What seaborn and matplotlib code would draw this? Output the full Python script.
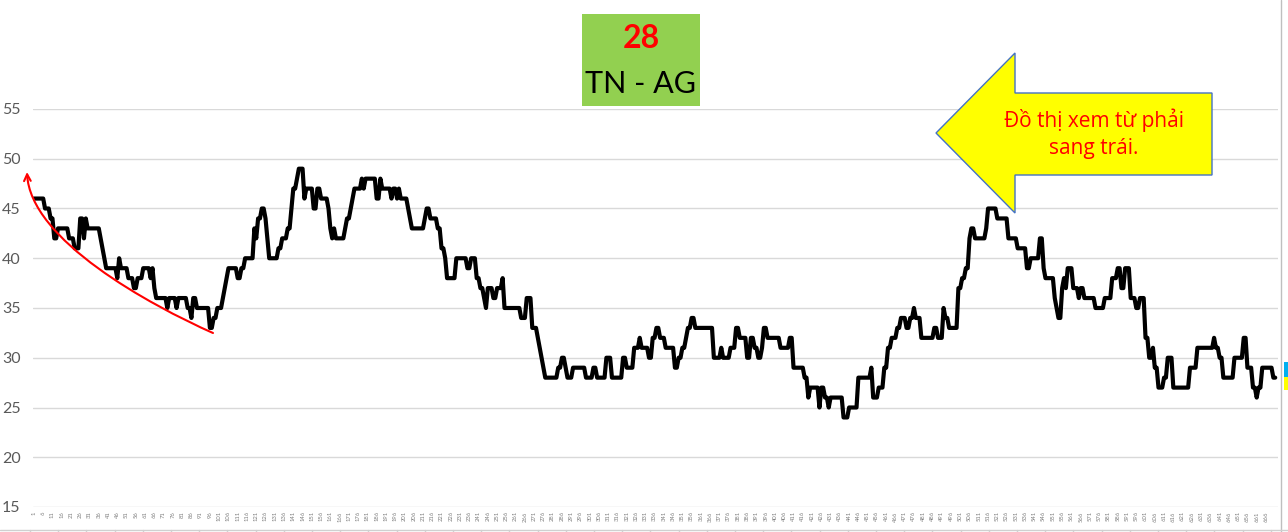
import numpy as np
import pandas as pd
import matplotlib
matplotlib.use("Agg")
import matplotlib.pyplot as plt
import seaborn as sns
from matplotlib.patches import Polygon, Rectangle, FancyArrowPatch
from matplotlib.path import Path

# chuỗi giá trị theo ngày, dạng (mức, số ngày liên tiếp)
levels = [
    46, 45, 44, 42, 43, 42, 41, 44, 42, 44, 43, 42, 41, 40, 39, 38, 40, 39, 38, 37,
    38, 39, 38, 39, 37, 36, 35, 36, 35, 36, 35, 34, 36, 35, 33, 34, 35, 36, 37, 38,
    39, 38, 39, 40, 43, 42, 44, 45, 44, 42, 40, 41, 42, 43,
    45, 47, 48, 49, 46, 47, 45, 47, 46, 45, 43, 42, 43, 42, 43, 44, 45, 46, 47, 48,
    47, 48, 46, 48, 47, 46, 47, 46, 47, 46, 45, 44, 43, 44, 45, 44, 43, 41, 40, 38,
    40, 39, 40, 38, 37, 36, 35, 37, 36, 37, 38, 35, 34, 36, 33, 32, 31, 30, 29,
    28, 29, 30, 29, 28, 29, 28, 29, 28, 30, 28, 30, 29, 31, 32, 31, 30, 32, 33, 32,
    31, 29, 30, 31, 32, 33, 34, 33, 30, 31, 30, 31, 33, 32, 30, 32, 31, 30, 31, 33,
    32, 31, 32,
    29, 28, 26, 27, 25, 27, 26, 25, 26, 24, 25, 28, 29, 26, 27, 29, 31, 32, 33, 34,
    33, 34, 35, 34, 32, 33, 32, 35, 34, 33, 37, 38, 39, 42, 43, 42, 43, 45, 44, 42,
    41, 39, 40, 42, 39, 38,
    36, 35, 34, 37, 38, 37, 39, 37, 36, 37, 36, 35, 36, 38, 39, 37, 39, 36, 35, 36,
    32, 30, 31, 29, 27, 28, 30, 27, 29, 31, 32, 31, 30, 28, 30, 32, 29, 27, 26, 27,
    29, 28,
]
run_lengths = [
    6, 3, 2, 2, 6, 3, 3, 2, 1, 1, 7, 1, 1, 1, 6, 1, 1, 4, 3, 2,
    3, 4, 1, 1, 1, 6, 1, 4, 1, 5, 2, 1, 2, 7, 2, 2, 3, 1, 1, 1,
    5, 2, 2, 5, 1, 1, 2, 2, 1, 1, 5, 2, 3, 2,
    1, 2, 1, 3, 1, 4, 2, 2, 4, 1, 1, 1, 1, 5, 1, 2, 1, 1, 4, 1,
    1, 6, 2, 1, 5, 1, 2, 1, 1, 4, 1, 1, 7, 1, 2, 4, 2, 2, 1, 5,
    6, 2, 3, 2, 2, 1, 1, 3, 2, 3, 1, 9, 3, 3, 3, 1, 1, 1, 1,
    7, 2, 2, 1, 3, 7, 4, 2, 5, 3, 6, 2, 4, 3, 1, 4, 2, 2, 2, 3,
    5, 2, 2, 2, 1, 2, 2, 10, 4, 1, 4, 3, 2, 4, 2, 2, 2, 2, 1, 2,
    7, 5, 2,
    6, 2, 1, 5, 1, 2, 2, 1, 7, 3, 5, 7, 1, 3, 3, 2, 2, 3, 2, 3,
    2, 2, 1, 3, 7, 2, 3, 1, 2, 5, 2, 2, 2, 1, 2, 6, 1, 5, 6, 5,
    5, 2, 5, 2, 1, 5,
    1, 1, 2, 1, 1, 1, 3, 3, 1, 2, 6, 5, 4, 3, 2, 2, 3, 3, 2, 3,
    2, 2, 1, 2, 3, 2, 3, 9, 4, 9, 1, 2, 2, 6, 5, 2, 3, 2, 1, 2,
    6, 2,
]

title_number = "28"
title_name = "TN - AG"
note_text = "Đồ thị xem từ phải\nsang trái."
y_ticks = [15, 20, 25, 30, 35, 40, 45, 50, 55]

values = np.repeat(levels, run_lengths)
days = np.arange(1, len(values) + 1)
df = pd.DataFrame({"ngay": days, "gia_tri": values})

sns.set_style("white")
plt.rcParams["font.family"] = ["Lato", "Noto Sans", "DejaVu Sans"]

W, H = 1288, 532
fig = plt.figure(figsize=(W / 100, H / 100), dpi=100)
ax = fig.add_axes([33 / W, 25 / H, 1245 / W, 398 / H])

sns.lineplot(data=df, x="ngay", y="gia_tri", ax=ax, color="black", linewidth=3.0)

ax.set_xlim(0.5, 672.5)
ax.set_ylim(15, 55)
ax.set_yticks(y_ticks)
ax.yaxis.grid(True, color="#D9D9D9", linewidth=1.0)
ax.set_axisbelow(True)
xt = list(range(1, 667, 5))
ax.set_xticks(xt)
ax.set_xticklabels([str(t) for t in xt], rotation=90, fontsize=4.2, color="#7F7F7F")
ax.tick_params(axis="y", length=0, pad=9, labelsize=11.5, labelcolor="#595959")
ax.tick_params(axis="x", length=0, pad=3)
ax.set_xlabel("")
ax.set_ylabel("")
for s in ax.spines.values():
    s.set_visible(False)

# lớp phủ theo toạ độ pixel cho hộp tiêu đề và mũi tên
ov = fig.add_axes([0, 0, 1, 1], zorder=5)
ov.set_xlim(0, W)
ov.set_ylim(H, 0)
ov.axis("off")
ov.patch.set_alpha(0)

ov.add_patch(Rectangle((582, 14), 118, 92, facecolor="#92D050", edgecolor="none"))
ov.text(641, 38, title_number, ha="center", va="center", color="red",
        fontsize=23, fontweight="bold")
ov.text(641, 84, title_name, ha="center", va="center", color="black", fontsize=22)

arrow = [(936, 133), (1015, 53), (1015, 93), (1212, 93), (1212, 175),
         (1015, 175), (1015, 213)]
ov.add_patch(Polygon(arrow, closed=True, facecolor="#FFFF00",
                     edgecolor="#4472C4", linewidth=1.0))
ov.text(1094, 134, note_text, ha="center", va="center", color="#FF0000",
        fontsize=15, linespacing=1.35, family=["Open Sans", "DejaVu Sans"])

curve = Path([(213, 333), (150, 305), (30, 240), (27, 172)],
             [Path.MOVETO, Path.CURVE4, Path.CURVE4, Path.CURVE4])
ov.add_patch(FancyArrowPatch(path=curve, arrowstyle="->", mutation_scale=12,
                             color="red", linewidth=1.5))

# mép phải và mép dưới của ảnh chụp
ov.plot([1281, 1281], [0, H], color="#BFBFBF", linewidth=1.0)
ov.add_patch(Rectangle((1284, 362), 4, 15, facecolor="#00B0F0", edgecolor="none"))
ov.add_patch(Rectangle((1284, 377), 4, 13, facecolor="#FFFF00", edgecolor="none"))
ov.plot([0, W], [529.5, 529.5], color="#D0D0D0", linewidth=1.0)
for tx in np.arange(30, W, 28.2):
    ov.plot([tx, tx], [529.5, H], color="#D0D0D0", linewidth=1.0)

fig.savefig("out.png", dpi=100)
plt.close(fig)
